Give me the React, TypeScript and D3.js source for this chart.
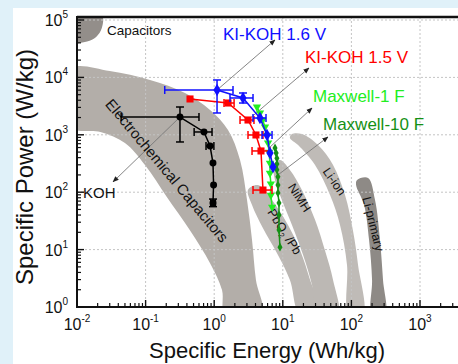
import React from "react";
import * as d3 from "d3";

const W = 458;
const H = 364;

// series rows: [energy Wh/kg, power W/kg, eLow, eHigh, pLow, pHigh]
const koh = [
  [0.317, 2040, 0.044, 0.6, 750, 3050],
  [0.71, 1120, 0.51, 0.93, null, null],
  [0.87, 638, 0.76, 0.99, null, null],
  [0.96, 323, null, null, null, null],
  [0.98, 133, null, null, null, null],
  [0.96, 65, 0.89, 1.04, 56, 76],
];
const kiKoh16 = [
  [1.1, 6030, 0.19, 1.88, 2400, 9020],
  [2.63, 4380, 1.7, 3.68, 3580, 5350],
  [4.65, 1960, 3.68, 5.69, null, null],
  [5.89, 993, 4.98, 6.97, null, null],
  [6.5, 482, null, null, null, null],
  [7.2, 275, null, null, null, null],
];
const kiKoh15 = [
  [0.444, 4210, null, null, null, null],
  [1.59, 3580, 1.39, 1.95, null, null],
  [3.11, 1810, 2.38, 3.8, null, null],
  [4.06, 993, 3.11, 5.14, null, null],
  [4.81, 523, 3.56, 6.5, null, null],
  [5.14, 109, 3.68, 6.97, null, null],
];
const maxwell1 = [
  [4.2, 3050], [4.65, 2400], [5.1, 1810], [5.5, 1370], [5.9, 990], [6.1, 720],
  [6.3, 500], [6.5, 320], [6.5, 215], [6.7, 140], [6.7, 89], [7.0, 55],
];
const maxwell10 = [
  [7.7, 590], [8.0, 480], [8.2, 390], [8.2, 310], [8.2, 245], [8.5, 185],
  [8.5, 133], [8.5, 97], [8.8, 65], [8.8, 40], [8.8, 22], [9.1, 11],
];

// Ragone regions (energy, power)
const capacitorsRegion = [[0.008, 120000], [0.023, 120000], [0.023, 72600], [0.019, 50600], [0.014, 42100], [0.008, 41400]];
const ecRegion = [
  [0.008, 14000], [0.03, 12900], [0.116, 9000], [0.375, 5350], [0.87, 2700], [1.59, 1210], [2.38, 364],
  [3.01, 73], [3.56, 14.7], [4.06, 2.95], [4.98, 0.73], [1.44, 0.73], [1.3, 1.98], [0.87, 5.8],
  [0.44, 22], [0.205, 82], [0.098, 298], [0.05, 720], [0.022, 1120], [0.008, 1370],
];
const pbRegion = [
  [4.35, 133], [6.96, 73], [11.9, 26.8], [17.8, 9.8], [25, 2.95], [34.9, 0.73],
  [17.8, 0.73], [12.7, 2.95], [8.2, 8.7], [5.1, 24], [3.56, 60], [3.11, 110],
];
const nimhRegion = [
  [9.1, 364], [12.7, 244], [19, 109], [29.5, 33], [41, 9.8], [54, 2.95], [63.8, 0.73],
  [32.6, 0.73], [26.7, 2.4], [19.7, 8.1], [13.6, 26.8], [9.7, 73], [7.69, 163], [7.4, 298],
];
const liIonRegion = [
  [13.6, 1030], [19.1, 1030], [32.6, 664], [54, 298], [80.7, 89], [105, 22], [125, 5.4], [148, 0.73],
  [92, 0.73], [86.3, 5.4], [68.2, 26.8], [48.8, 89], [29.5, 298], [16.7, 664], [12.7, 880],
];
const liPrimaryRegion = [
  [121, 163], [175, 177], [221, 73], [261, 14.7], [289, 2.95], [309, 0.73],
  [200, 0.73], [200, 2.95], [181, 14.7], [153, 60], [117, 133],
];

// annotation arrows: from data to label
const arrows = [
  [[0.317, 2040], [0.0335, 151]],
  [[1.1, 6030], [7.7, 44900]],
  [[3.11, 1810], [24.1, 14600]],
  [[6.5, 610], [26.7, 2930]],
  [[8.5, 200], [45.6, 916]],
];

const xTicks = [-2, -1, 0, 1, 2, 3];
const yTicks = [0, 1, 2, 3, 4, 5];

const x = d3.scaleLog().domain([1e-2, 1e4]).range([77, 77 + 6 * 68.6]);
const y = d3.scaleLog().domain([1, 1e5]).range([307, 20]);

const regionLine = d3
  .line<number[]>()
  .x((d) => x(d[0]))
  .y((d) => y(d[1]))
  .curve(d3.curveCatmullRomClosed.alpha(0.5));

const seriesLine = d3
  .line<any>()
  .x((d) => x(d[0]))
  .y((d) => y(d[1]));

function ErrorBars({ rows, color }) {
  const cap = 4;
  return (
    <g stroke={color} strokeWidth={1.5} fill="none">
      {rows.map((r, i) => {
        const cx = x(r[0]);
        const cy = y(r[1]);
        return (
          <g key={i}>
            {r[2] != null && (
              <>
                <line x1={x(r[2])} x2={x(r[3])} y1={cy} y2={cy} />
                <line x1={x(r[2])} x2={x(r[2])} y1={cy - cap} y2={cy + cap} />
                <line x1={x(r[3])} x2={x(r[3])} y1={cy - cap} y2={cy + cap} />
              </>
            )}
            {r[4] != null && (
              <>
                <line x1={cx} x2={cx} y1={y(r[4])} y2={y(r[5])} />
                <line x1={cx - cap} x2={cx + cap} y1={y(r[4])} y2={y(r[4])} />
                <line x1={cx - cap} x2={cx + cap} y1={y(r[5])} y2={y(r[5])} />
              </>
            )}
          </g>
        );
      })}
    </g>
  );
}

function Series({ rows, color, symbol, size, rotate = 0, width = 1.5 }) {
  const sym = d3.symbol().type(symbol).size(size)();
  return (
    <g>
      <path d={seriesLine(rows)} fill="none" stroke={color} strokeWidth={width} />
      {rows.map((r, i) => (
        <path
          key={i}
          d={sym}
          fill={color}
          transform={`translate(${x(r[0])},${y(r[1])}) rotate(${rotate})`}
        />
      ))}
    </g>
  );
}

function Pow({ px, py, exp, anchor, size = 16 }) {
  return (
    <text x={px} y={py} textAnchor={anchor} fontSize={size} fill="#111">
      10
      <tspan fontSize={10} dy={-8}>
        {exp}
      </tspan>
    </text>
  );
}

export default function App() {
  const minorX = [];
  for (let e = -2; e < 4; e++) for (let m = 2; m < 10; m++) minorX.push(m * Math.pow(10, e));
  const minorY = [];
  for (let e = 0; e < 5; e++) for (let m = 2; m < 10; m++) minorY.push(m * Math.pow(10, e));

  return (
    <svg
      width={W}
      height={H}
      style={{ position: "absolute", left: 0, top: 0 }}
      fontFamily="Liberation Sans, Arial, sans-serif"
    >
      <defs>
        <clipPath id="plot">
          <rect x={77} y={17} width={W - 77} height={290} />
        </clipPath>
        <marker id="arr" viewBox="0 0 10 10" refX={9} refY={5} markerWidth={7} markerHeight={7} orient="auto">
          <path d="M0,1 L10,5 L0,9 Z" fill="#222" />
        </marker>
      </defs>
      <rect width={W} height={H} fill="#e0f1f9" />
      <rect x={13} y={8} width={W - 13} height={H - 8} fill="#fff" />

      <g clipPath="url(#plot)">
        <path d={regionLine(capacitorsRegion)} fill="#938e8a" />
        <path d={regionLine(ecRegion)} fill="#b3aea9" />
        <path d={regionLine(pbRegion)} fill="#bcb8b4" />
        <path d={regionLine(nimhRegion)} fill="#bcb8b4" />
        <path d={regionLine(liIonRegion)} fill="#bfbbb7" />
        <path d={regionLine(liPrimaryRegion)} fill="#8e8a86" />

        {xTicks.slice(1).map((e) => (
          <line key={e} x1={x(10 ** e)} x2={x(10 ** e)} y1={17} y2={307} stroke="#c4c4c4" strokeDasharray="2,2" />
        ))}
        {yTicks.slice(1).map((e) => (
          <line key={e} x1={77} x2={W} y1={y(10 ** e)} y2={y(10 ** e)} stroke="#c4c4c4" strokeDasharray="2,2" />
        ))}

        {arrows.map((a, i) => (
          <line
            key={i}
            x1={x(a[0][0])}
            y1={y(a[0][1])}
            x2={x(a[1][0])}
            y2={y(a[1][1])}
            stroke="#777"
            strokeWidth={0.9}
            markerEnd="url(#arr)"
          />
        ))}
      </g>

      {/* region labels */}
      <text x={107} y={35} fontSize={13.5} fill="#111">Capacitors</text>
      <text transform="translate(163,174) rotate(50)" textAnchor="middle" fontSize={15} fill="#111">
        Electrochemical Capacitors
      </text>
      <text transform="translate(296,200) rotate(57)" textAnchor="middle" fontSize={12.5} fill="#111">NiMH</text>
      <text transform="translate(281,234) rotate(57)" textAnchor="middle" fontSize={12.5} fill="#111">
        PbO<tspan fontSize={8} dy={3}>2</tspan>
        <tspan dy={-3}> /Pb</tspan>
      </text>
      <text transform="translate(331,184) rotate(55)" textAnchor="middle" fontSize={12.5} fill="#111">Li-ion</text>
      <text transform="translate(369,225) rotate(76)" textAnchor="middle" fontSize={12.5} fill="#111">Li-primary</text>

      {/* series */}
      <Series rows={maxwell1} color="#22ee22" symbol={d3.symbolTriangle} size={30} rotate={180} />
      <Series rows={maxwell10} color="#159015" symbol={d3.symbolDiamond} size={22} />
      <ErrorBars rows={kiKoh15} color="#ff0000" />
      <Series rows={kiKoh15} color="#ff0000" symbol={d3.symbolSquare} size={50} />
      <ErrorBars rows={kiKoh16} color="#1010ff" />
      <Series rows={kiKoh16} color="#1010ff" symbol={d3.symbolDiamond} size={45} />
      <ErrorBars rows={koh} color="#000" />
      <Series rows={koh} color="#000" symbol={d3.symbolCircle} size={38} />

      {/* series labels */}
      <text x={223} y={40} fontSize={17} fill="#1010ff">KI-KOH 1.6 V</text>
      <text x={305} y={63} fontSize={17} fill="#ff0000">KI-KOH 1.5 V</text>
      <text x={313} y={102} fontSize={17} fill="#22ee22">Maxwell-1 F</text>
      <text x={323} y={130} fontSize={17} fill="#159015">Maxwell-10 F</text>
      <text x={83} y={198} fontSize={15} fill="#111">KOH</text>

      {/* axes */}
      <line x1={77} x2={W} y1={17} y2={17} stroke="#111" strokeWidth={2.5} />
      <line x1={77} x2={77} y1={16} y2={308} stroke="#111" strokeWidth={2} />
      <line x1={76} x2={W} y1={307} y2={307} stroke="#111" strokeWidth={2} />
      {minorX.filter((v) => x(v) < W).map((v, i) => (
        <line key={i} x1={x(v)} x2={x(v)} y1={307} y2={303} stroke="#111" strokeWidth={1.2} />
      ))}
      {xTicks.map((e) => (
        <line key={e} x1={x(10 ** e)} x2={x(10 ** e)} y1={307} y2={300} stroke="#111" strokeWidth={1.4} />
      ))}
      {minorY.map((v, i) => (
        <line key={i} x1={77} x2={81} y1={y(v)} y2={y(v)} stroke="#111" strokeWidth={1.2} />
      ))}
      {yTicks.map((e) => (
        <line key={e} x1={77} x2={84} y1={y(10 ** e)} y2={y(10 ** e)} stroke="#111" strokeWidth={1.4} />
      ))}
      {xTicks.map((e) => (
        <Pow key={e} px={x(10 ** e)} py={330} exp={String(e)} anchor="middle" />
      ))}
      {yTicks.map((e) => (
        <Pow key={e} px={68} py={y(10 ** e) + 6} exp={String(e)} anchor="end" />
      ))}

      <text x={267} y={358} textAnchor="middle" fontSize={22} fill="#111">
        Specific Energy (Wh/kg)
      </text>
      <text transform="translate(33,167) rotate(-90)" textAnchor="middle" fontSize={24} fill="#111">
        Specific Power (W/kg)
      </text>
    </svg>
  );
}
